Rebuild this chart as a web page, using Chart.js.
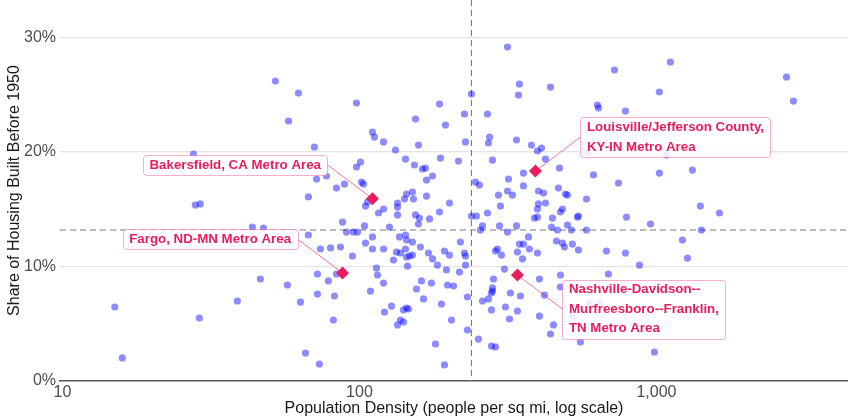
<!DOCTYPE html>
<html>
<head>
<meta charset="utf-8">
<title>Older housing vs. density</title>
<script src="https://cdn.jsdelivr.net/npm/chart.js@4.4.0/dist/chart.umd.min.js"></script>
<style>
body{margin:0;background:#fff;}
#wrap{width:848px;height:418px;}
</style>
</head>
<body>
<div id="wrap"><canvas id="grafikKepadatan"></canvas></div>
<script>
/*==========================================
    DENSITY vs. PRE-1950 HOUSING
==========================================*/

// population density (people per sq mi), one entry per metro area
const density=[
15.0,15.9,28.9,38.8,46.4,57.2,63.3,43.6,47.5,52.1,62.3,57.7,27.6,28.0,29.1,65.8,73.3,81.7,67.3,87.7,
90.4,95.4,98.5,104.0,110.6,104.8,110.6,73.9,79.9,86.3,94.7,114.1,115.0,108.9,72.2,78.6,83.7,72.2,82.4,
97.7,110.6,112.3,70.5,100.8,97.7,71.7,77.4,83.7,89.0,101.6,103.2,67.3,104.8,106.4,115.9,
345.7,343.1,439.7,238.3,186.0,225.7,269.8,154.4,194.8,120.5,158.0,227.5,274.1,271.9,337.9,379.4,397.5,410.0,
132.2,142.9,187.4,215.4,280.5,423.0,153.2,163.0,166.8,176.2,168.1,471.5,356.6,317.6,245.8,253.5,356.6,467.7,
493.9,315.1,293.8,327.4,400.6,416.5,144.0,150.8,141.8,152.0,168.1,134.3,134.3,120.5,134.3,154.4,159.2,172.1,
186.0,200.9,298.4,400.6,423.0,397.5,482.6,475.1,238.3,247.7,269.8,388.3,446.6,397.5,315.1,581.1,613.6,
722.2,1114,2740,2893,1023,633.0,637.9,786.3,745.0,1023,1322,501.4,542.0,546.2,792.5,954.6,1406,1630,
501.4,517.2,581.1,1417,1223,590.2,1081,
482.6,490.0,521.3,546.2,678.5,786.3,1272,876.7,475.1,689.3,475.1,554.8,984.7,594.8,642.9,521.3,
158.0,126.2,259.6,255.5,296.1,315.1,337.9,443.1,464.2,136.4,142.9,144.0,150.8,218.8,370.7,345.7,356.6,460.6,
120.5,133.2,137.4,142.9,160.4,193.3,200.9,225.7,227.5,291.5,287.0,300.7,340.4,373.5,397.5,353.9,130.2,144.0,
147.4,150.8,170.7,176.2,183.0,145.1,227.5,196.3,217.1,307.7,
120.5,161.7,174.7,197.9,207.3,155.6,231.0,282.7,280.5,280.5,278.3,271.9,259.6,322.4,348.4,403.7,419.8,164.3,
188.8,128.2,121.4,140.7,144.0,146.2,134.3,137.4,140.7,204.1,278.3,310.1,340.4,320.0,403.7,450.0,439.7,231.0,
251.6,278.3,287.0,180.3,193.3
];

// share of housing units built before 1950 (%), same order as density
const sharePre1950=[
6.46,2.01,5.50,6.98,8.90,8.38,6.89,13.44,13.35,26.18,25.13,22.69,19.81,15.36,15.45,2.44,1.48,5.32,12.74,13.87,
13.0,13.0,13.0,13.53,12.57,12.04,11.52,11.52,11.61,11.69,10.91,9.86,9.25,7.85,9.34,8.73,9.34,7.59,7.42,
24.26,21.73,21.29,20.42,19.11,18.67,17.63,17.89,16.84,17.19,17.36,17.19,16.06,15.27,15.62,14.66,
25.92,24.96,25.65,25.04,24.17,23.30,23.30,22.86,22.34,20.86,20.59,20.86,21.29,20.77,21.03,20.59,20.07,20.33,
20.16,19.37,19.46,19.20,19.28,19.37,18.85,18.50,18.59,17.89,17.54,18.59,18.15,17.63,17.36,17.10,17.02,16.84,
16.32,16.58,16.23,16.23,16.58,16.40,16.32,16.49,15.88,15.88,16.14,15.53,15.18,15.01,14.49,14.49,14.22,14.14,
14.75,15.53,15.27,15.45,15.53,15.01,15.01,14.75,14.40,14.40,14.66,14.22,14.22,14.31,29.14,15.88,17.98,
27.14,27.84,26.53,24.43,25.22,24.08,23.82,23.56,17.28,18.15,18.41,16.23,14.31,14.40,14.31,13.70,15.27,14.66,
13.61,13.18,13.18,13.18,12.30,19.90,19.72,
12.04,11.69,11.95,11.43,11.34,11.17,10.73,10.12,9.25,9.34,8.20,3.40,2.53,6.81,6.81,5.58,
13.70,13.44,13.53,13.18,13.53,13.00,13.53,13.44,13.18,12.57,12.74,12.30,12.13,12.13,12.57,11.95,11.95,12.22,
11.52,11.26,11.17,11.52,11.69,11.34,10.99,11.17,10.91,11.52,11.34,10.99,11.26,11.52,11.17,10.65,10.56,10.82,
10.91,10.99,11.17,10.65,10.12,10.03,10.12,9.69,9.51,9.77,
8.55,8.73,8.55,8.38,8.29,8.03,7.33,8.90,8.12,7.85,7.68,7.16,6.98,7.68,7.42,8.90,7.50,7.16,
6.72,6.54,6.02,6.20,6.37,6.28,4.89,5.32,5.15,5.32,6.20,6.46,6.11,5.41,5.67,4.89,4.10,4.45,
3.66,3.05,2.97,3.23,1.40
];

// called-out metro areas
const highlightNames=[
["Bakersfield, CA Metro Area"],
["Fargo, ND-MN Metro Area"],
["Louisville/Jefferson County,","KY-IN Metro Area"],
["Nashville-Davidson--","Murfreesboro--Franklin,","TN Metro Area"]
];
const highlightDensity=[110.6,87.7,391.4,340.4];
const highlightShare=[15.9,9.42,18.32,9.25];

// medians across all metros (dashed guides)
const medianDensity=238.3;
const medianShare=13.18;

const xTicks=[10,100,1000];
const yTicks=[0,10,20,30];

/*------------------------------------------
    label placement: which side of the point
------------------------------------------*/
const labelPlacement=[
{side:-1,up:-1},
{side:-1,up:-1},
{side:1,up:-1},
{side:1,up:1}
];

const PINK="#e81d5f";

Chart.defaults.font.family="'Liberation Sans', Arial, Helvetica, sans-serif";

// dashed median lines, under the points
const refLines={
id:"refLines",
beforeDatasetsDraw(chart){
const {ctx,chartArea:a,scales:{x,y}}=chart;
const px=x.getPixelForValue(medianDensity);
const py=y.getPixelForValue(medianShare);
ctx.save();
ctx.strokeStyle="#7a7a7a";
ctx.lineWidth=1.1;
ctx.setLineDash([6,4]);
ctx.beginPath();
ctx.moveTo(a.left,py);
ctx.lineTo(a.right,py);
ctx.moveTo(px,a.top);
ctx.lineTo(px,a.bottom);
ctx.stroke();
ctx.restore();
}
};

// boxed labels with leader lines
const metroLabels={
id:"metroLabels",
afterDatasetsDraw(chart){
const {ctx,scales:{x,y}}=chart;
ctx.save();
ctx.font="bold 13.3px 'Liberation Sans', Arial, sans-serif";
ctx.textBaseline="middle";
highlightNames.forEach(function(lines,i){
const px=x.getPixelForValue(highlightDensity[i]);
const py=y.getPixelForValue(highlightShare[i]);
const pl=labelPlacement[i];
const w=Math.max(...lines.map(t=>ctx.measureText(t).width))+13;
const h=lines.length*19.5+0.5;
const bx=pl.side<0 ? px-45-w : px+45;
const cy=py+34*pl.up;
const by=cy-h/2;
const ex=pl.side<0 ? bx+w : bx;

// leader, stopping short of the diamond
const dx=px-ex, dy=py-cy;
const len=Math.sqrt(dx*dx+dy*dy);
ctx.strokeStyle="rgba(232,29,95,0.6)";
ctx.lineWidth=1;
ctx.setLineDash([]);
ctx.beginPath();
ctx.moveTo(ex,cy);
ctx.lineTo(px-dx/len*4,py-dy/len*4);
ctx.stroke();

ctx.fillStyle="rgba(255,255,255,0.85)";
ctx.strokeStyle="rgba(232,29,95,0.35)";
ctx.beginPath();
ctx.roundRect(Math.round(bx)+0.5,Math.round(by)+0.5,Math.round(w),Math.round(h),3);
ctx.fill();
ctx.stroke();

ctx.fillStyle=PINK;
lines.forEach(function(t,k){
ctx.fillText(t,bx+6.5,by+10.2+k*19.5);
});
});
ctx.restore();
}
};

const ctx=document.getElementById("grafikKepadatan");

new Chart(ctx,{

type:"scatter",

data:{

datasets:[{

label:"Called out",

data:highlightDensity.map((d,i)=>({x:d,y:highlightShare[i]})),

pointStyle:"rectRot",

pointRadius:6.5,

backgroundColor:PINK,

borderWidth:0

},{

label:"Metro areas",

data:density.map((d,i)=>({x:d,y:sharePre1950[i]})),

pointRadius:3.6,

backgroundColor:"rgba(0,0,255,0.45)",

borderWidth:0

}]

},

options:{

responsive:true,

maintainAspectRatio:false,

animation:false,

layout:{padding:0,autoPadding:false},

plugins:{

legend:{display:false},

tooltip:{enabled:false}

},

scales:{

x:{

type:"logarithmic",

min:9.81,

max:4416,

afterBuildTicks:function(s){ s.ticks=xTicks.map(v=>({value:v})); },

// fixed axis band, no extra room for the end labels
afterFit:function(s){ s.height=37; s.paddingLeft=0; s.paddingRight=0; },

ticks:{

color:"#4d4d4d",

padding:2,

font:{size:16},

maxRotation:0,

callback:function(value){ return Number(value).toLocaleString("en-US"); }

},

grid:{drawOnChartArea:false,drawTicks:false},

border:{display:true,color:"#5a5a5a",width:1.5},

title:{

display:true,

text:"Population Density (people per sq mi, log scale)",

color:"#1a1a1a",

font:{size:16},

padding:{top:0,bottom:-0.5}

}

},

y:{

min:0,

max:33.25,

afterBuildTicks:function(s){ s.ticks=yTicks.map(v=>({value:v})); },

afterFit:function(s){ s.width=60; s.paddingTop=0; s.paddingBottom=0; },

ticks:{

color:"#4d4d4d",

padding:4,

font:{size:16},

callback:function(value){ return value+"%"; }

},

grid:{color:"#e3e3e3",lineWidth:1.2,drawTicks:false},

border:{display:false},

title:{

display:true,

text:"Share of Housing Built Before 1950",

color:"#1a1a1a",

font:{size:16},

padding:{top:5.4,bottom:0}

}

}

}

},

plugins:[refLines,metroLabels]

});
</script>
</body>
</html>
